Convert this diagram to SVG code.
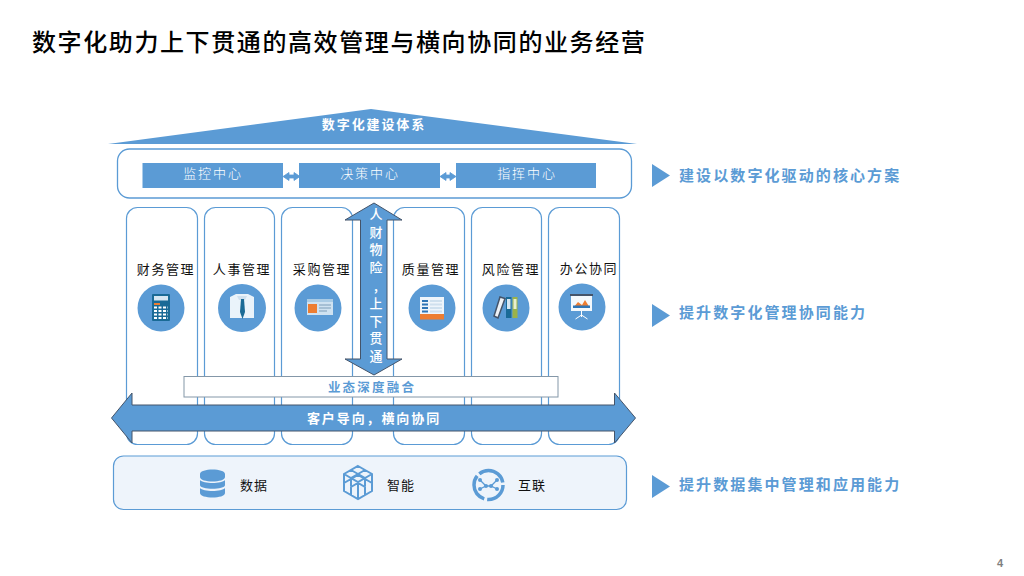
<svg xmlns="http://www.w3.org/2000/svg" width="1024" height="576" viewBox="0 0 1024 576">
<style>
text{font-family:"Noto Sans CJK SC","Noto Sans",sans-serif}
.col{fill:#fff;stroke:#5b9bd5;stroke-width:1.2}
.blue{fill:#5b9bd5}
.edge{fill:#5b9bd5;stroke:#44546a;stroke-width:1}
.c{text-anchor:middle}
.lab{font-size:13px;fill:#111;letter-spacing:1.6px;text-anchor:middle}
.head{font-size:13px;fill:#fff;letter-spacing:1.9px;text-anchor:middle}
.bold{font-weight:700}
.side{font-size:15px;font-weight:700;fill:#5b9bd5;letter-spacing:2.1px}
.white{fill:#fff}
</style>
<rect width="1024" height="576" fill="#fff"/>
<text id="title" x="32" y="51" font-size="24" font-weight="500" fill="#000" letter-spacing="1.6">数字化助力上下贯通的高效管理与横向协同的业务经营</text>

<g id="roof"><polygon class="blue" points="108,144 371,109 637,144"/><text class="head bold" x="374" y="129">数字化建设体系</text></g>
<g id="center-band"><rect x="117.500" y="149" width="514" height="49" rx="12" fill="#fff" stroke="#5b9bd5" stroke-width="1.300"/></g>
<g id="n-monitor"><rect class="blue" x="142.500" y="163" width="140.500" height="25"/><text class="head" x="213" y="178" style="font-weight:300">监控中心</text></g>
<g id="n-decision"><rect class="blue" x="299" y="163" width="141" height="25"/><text class="head" x="370" y="178" style="font-weight:300">决策中心</text></g>
<g id="n-command"><rect class="blue" x="456" y="163" width="140" height="25"/><text class="head" x="527" y="178" style="font-weight:300">指挥中心</text></g>

<g id="n-finance"><rect class="col" x="126.500" y="207.500" width="71" height="237" rx="11"/><text class="lab" x="166" y="274">财务管理</text><circle class="blue" cx="161" cy="308" r="23.500"/><rect x="152" y="294" width="18" height="27" rx="1" fill="#1a6a96"/><rect x="154" y="296" width="14" height="4.500" fill="#d6e6f2"/><rect x="154" y="303" width="6" height="2" fill="#ed7d31"/><path d="M154 307.500h14M154 311h14M154 314.500h14M154 318h14" stroke="#fff" stroke-width="2" stroke-dasharray="3 1.500"/></g>
<g id="n-hr"><rect class="col" x="204.500" y="207.500" width="70" height="237" rx="11"/><text class="lab" x="242" y="274">人事管理</text><circle class="blue" cx="242" cy="308" r="24"/><polygon points="230,297 236,294 248,294 254,297 254,318 230,318" fill="#eaf3fa"/><polygon points="237,296 247,296 245,300 239,300" fill="#cfe0ee"/><polygon points="241,299 244,299 245,312 242.500,319 240,312" fill="#1a6a96"/></g>
<g id="n-purchase"><rect class="col" x="281.500" y="207.500" width="71" height="237" rx="11"/><text class="lab" x="322" y="274">采购管理</text><circle class="blue" cx="318" cy="308" r="23.500"/><rect x="307" y="299" width="26" height="16" fill="#cfe2f1"/><rect x="307" y="299" width="26" height="3" fill="#a9cbe5"/><rect x="308" y="304" width="9" height="9" fill="#ed7d31"/><path d="M319 305h12M319 308h12M319 311h8" stroke="#7d9db8" stroke-width="1"/></g>
<g id="n-quality"><rect class="col" x="393.500" y="207.500" width="71" height="237" rx="11"/><text class="lab" x="431" y="274">质量管理</text><circle class="blue" cx="432" cy="308" r="23.500"/><rect x="420" y="297" width="24" height="22" fill="#eef5fb"/><rect x="420" y="314" width="24" height="5.500" fill="#ed7d31"/><path d="M422 300h6v2h-6zM422 303.500h6v2h-6zM422 307h6v2h-6zM422 310.500h6v2h-6z" fill="#2e75b6"/><path d="M430 300h12v2h-12zM430 303.500h12v2h-12zM430 307h12v2h-12zM430 310.500h12v2h-12z" fill="#cfe0ee"/></g>
<g id="n-risk"><rect class="col" x="471.500" y="207.500" width="70" height="237" rx="11"/><text class="lab" x="511" y="274">风险管理</text><circle class="blue" cx="506" cy="308" r="23.500"/><polygon points="500,297 505,298.500 498,318 494,316" fill="#eef2f6" stroke="#44546a" stroke-width="1.500"/><rect x="506" y="297" width="5.500" height="21" fill="#1a6a96"/><rect x="507" y="299" width="3.500" height="10" fill="#d6e6f2"/><rect x="512.500" y="297" width="5" height="21" fill="#9bb24a"/><rect x="513.500" y="299" width="3" height="10" fill="#e9efcf"/></g>
<g id="n-office"><rect class="col" x="548.500" y="207.500" width="71" height="237" rx="11"/><text class="lab" x="589" y="273">办公协同</text><circle class="blue" cx="582" cy="307" r="23.500"/><rect x="570" y="294" width="23" height="2" fill="#44546a"/><rect x="571" y="296" width="21" height="15" fill="#f3f8fc"/><polygon points="573,308 578,302 582,305 585,300 590,308" fill="#ed7d31"/><rect x="573" y="305.500" width="17" height="2.500" fill="#2e75b6"/><path d="M581.500 311v6M581.500 315l-6 4M581.500 315l6 4" stroke="#fff" stroke-width="1" fill="none"/></g>

<g id="n-vertical"><polygon class="edge" points="374,203 402,220 387,220 387,359 402,359 374,375 345,359 360.500,359 360.500,220 345,220"/>
<g class="head" style="font-size:13px;font-weight:500"><text x="377" y="219">人</text><text x="377" y="237">财</text><text x="377" y="254">物</text><text x="377" y="272">险</text><text x="377" y="291">,</text><text x="377" y="308">上</text><text x="377" y="326">下</text><text x="377" y="343">贯</text><text x="377" y="361">通</text></g></g>
<g id="n-fusion"><rect x="184" y="376.500" width="374" height="20.500" fill="#fff" stroke="#8497a8" stroke-width="1"/><text class="c bold" x="372" y="392" font-size="12.500" fill="#5b9bd5" letter-spacing="2.200">业态深度融合</text></g>
<g id="n-customer"><polygon class="edge" points="111.500,418 132,393 132,405 614.500,405 614.500,393 635.500,418 614.500,443 614.500,431 132,431 132,443"/><text class="head bold" x="374" y="423">客户导向，横向协同</text></g>

<g id="data-band"><rect x="113.500" y="456" width="513" height="53.500" rx="10" fill="#eef4fb" stroke="#5b9bd5" stroke-width="1.200"/></g>
<g id="n-data"><path class="blue" d="M200 474c0-6 25-6 25 0v3c0 6-25 6-25 0zM200 480c3 4 22 4 25 0v5c0 5-25 5-25 0zM200 488c3 4 22 4 25 0v5c0 6-25 6-25 0z"/><text x="240" y="490" font-size="13" fill="#111" letter-spacing="1">数据</text></g>
<g id="n-smart"><path d="M358 466l14 8v17l-14 8-14-8v-17zM344 474l14 8 14-8M358 482v17M351 470l14 8v8M365 470l-14 8v8M344 483l14-8 14 8M351 495v-8l7-4 7 4v8" fill="none" stroke="#5b9bd5" stroke-width="2"/><text x="387" y="490" font-size="13" fill="#111" letter-spacing="1">智能</text></g>
<g id="n-link"><circle cx="488.500" cy="485" r="14.500" fill="none" stroke="#5b9bd5" stroke-width="3.500" stroke-dasharray="24 3 28 3 30 3"/><path d="M480 480l6 6 5 0 6-6M480 489l6-3 5 0 6 3" fill="none" stroke="#5b9bd5" stroke-width="1.300"/><g class="blue"><circle cx="480" cy="480" r="2"/><circle cx="480" cy="489" r="2"/><circle cx="497" cy="480" r="2"/><circle cx="497" cy="489" r="2"/><circle cx="486" cy="486" r="2"/><circle cx="491" cy="486" r="2"/></g><text x="518" y="490" font-size="13" fill="#111" letter-spacing="1">互联</text></g>

<g id="connectors"><path class="blue" d="M283 176.500l6-4v2.500h5v-2.500l6 4-6 4v-2.500h-5v2.500z" stroke="#5b9bd5" stroke-width=".8"/><path class="blue" d="M440 176.500l6-4v2.500h4v-2.500l6 4-6 4v-2.500h-4v2.500z" stroke="#5b9bd5" stroke-width=".8"/></g>

<g id="side-1"><polygon class="blue" points="652,164 670,175.500 652,187"/><text class="side" x="679" y="181">建设以数字化驱动的核心方案</text></g>
<g id="side-2"><polygon class="blue" points="652,304 670,315.500 652,327"/><text class="side" x="679" y="318">提升数字化管理协同能力</text></g>
<g id="side-3"><polygon class="blue" points="652,475 670,486.500 652,498"/><text class="side" x="679" y="490">提升数据集中管理和应用能力</text></g>
<text id="page" x="1003" y="567" font-size="11" font-weight="700" fill="#7f7f7f" style="font-family:'Liberation Sans',sans-serif" text-anchor="end">4</text>
</svg>
